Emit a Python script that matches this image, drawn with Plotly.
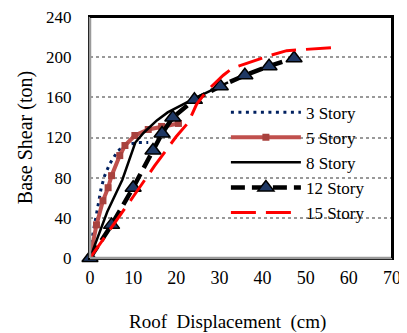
import plotly.graph_objects as go

# 3 Story
x3 = [0, 0.4, 1.1, 1.85, 2.6, 3.4, 4.6, 6.5, 8.8, 11.1, 13.5]
y3 = [0, 18, 34, 54, 70, 82, 94, 107, 113, 115, 115]
# 5 Story
x5 = [0, 1.5, 3, 4.2, 5, 6.9, 8.1, 10.4, 13.5, 16.6, 20.5]
y5 = [0, 33, 57, 70, 82, 102, 112, 122, 128, 131, 134]
# 8 Story
x8 = [0, 4, 7.5, 10.5, 12.5, 15.5, 18, 21, 24.7, 28.6, 32]
y8 = [0, 46, 78, 115, 125, 137, 145, 152, 160, 168, 175]
# 12 Story
x12 = [0, 5, 10, 14.6, 16.7, 19.2, 24.2, 30.2, 35.9, 41.5, 47.3]
y12 = [0, 33, 70, 107, 124, 140, 157.5, 171, 182, 191, 199]
# 15 Story
x15 = [0, 5, 10, 15, 20, 22.8, 24.7, 27, 28.6, 30.9, 33, 36.3, 42, 45.6, 51.8, 58]
y15 = [0, 30, 61, 92, 121, 135, 153, 166, 173, 182, 189, 194, 202, 206.5, 208.5, 210]

xticks = [0, 10, 20, 30, 40, 50, 60, 70]
yticks = [0, 40, 80, 120, 160, 200, 240]

FONT = "Liberation Serif"

fig = go.Figure()
fig.add_trace(go.Scatter(x=x3, y=y3, name="3 Story", mode="lines",
                         line=dict(color="#002060", width=3, dash="3px,4.5px"),
                         cliponaxis=False))
fig.add_trace(go.Scatter(x=x5, y=y5, name="5 Story", mode="lines+markers",
                         line=dict(color="#C0504D", width=4),
                         marker=dict(symbol="square", size=7, color="#A8423E"),
                         cliponaxis=False))
fig.add_trace(go.Scatter(x=x8, y=y8, name="8 Story", mode="lines",
                         line=dict(color="black", width=2.5),
                         cliponaxis=False))
fig.add_trace(go.Scatter(x=x12, y=y12, name="12 Story", mode="lines+markers",
                         line=dict(color="black", width=4.5, dash="14px,7px"),
                         marker=dict(symbol="triangle-up", size=14, color="#1F3864",
                                     line=dict(color="black", width=1.5)),
                         cliponaxis=False))
fig.add_trace(go.Scatter(x=x15, y=y15, name="15 Story", mode="lines",
                         line=dict(color="#FF0000", width=3, dash="25px,10px"),
                         cliponaxis=False))

# page body adds an 8px margin, so the figure is sized to fit inside the window
fig.update_layout(
    width=399, height=325,
    margin=dict(l=82, r=15, t=9, b=75),
    paper_bgcolor="white", plot_bgcolor="white",
    font=dict(family=FONT, size=17, color="black"),
    showlegend=True,
    legend=dict(x=0.45, y=0.678, xanchor="left", yanchor="top",
                bgcolor="rgba(0,0,0,0)", itemwidth=70,
                font=dict(family=FONT, size=17, color="black"),
                tracegroupgap=0),
    xaxis=dict(range=[0, 70], tickvals=xticks, ticktext=[str(v) for v in xticks],
               showgrid=False, zeroline=False, showline=True, linecolor="black",
               mirror=True, linewidth=2, ticks="", tickfont=dict(family=FONT, size=18),
               ticklabelstandoff=2, ticklabeloverflow="allow", automargin=False),
    yaxis=dict(range=[0, 240], tickvals=yticks, ticktext=[str(v) for v in yticks],
               showgrid=True, gridcolor="#999999", griddash="dot", gridwidth=1.5,
               zeroline=False, showline=True, linecolor="black", mirror=True,
               linewidth=2, ticks="", tickfont=dict(family=FONT, size=17), ticklabelstandoff=13,
               ticklabeloverflow="allow", automargin=False,
               title=dict(text="Base Shear (ton)", font=dict(family=FONT, size=20), standoff=8)),
    shapes=[
        dict(type="line", xref="paper", yref="paper", x0=0, x1=0, y0=0, y1=1,
             layer="above", line=dict(color="#9A9A9A", width=2.5)),
        dict(type="line", xref="paper", yref="paper", x0=0, x1=1, y0=0, y1=0,
             layer="above", line=dict(color="#9A9A9A", width=2.5)),
        dict(type="line", xref="paper", yref="paper", x0=0, x1=1, y0=1, y1=1,
             layer="above", line=dict(color="black", width=2)),
        dict(type="line", xref="paper", yref="paper", x0=1, x1=1, y0=0, y1=1,
             layer="above", line=dict(color="black", width=2)),
    ],
    annotations=[
        dict(text="Roof  Displacement  (cm)", xref="paper", yref="paper",
             x=0.454, y=-0.2656, xanchor="center", yanchor="middle", showarrow=False,
             font=dict(family=FONT, size=19, color="black")),
    ],
)

fig.write_html("out.html")
